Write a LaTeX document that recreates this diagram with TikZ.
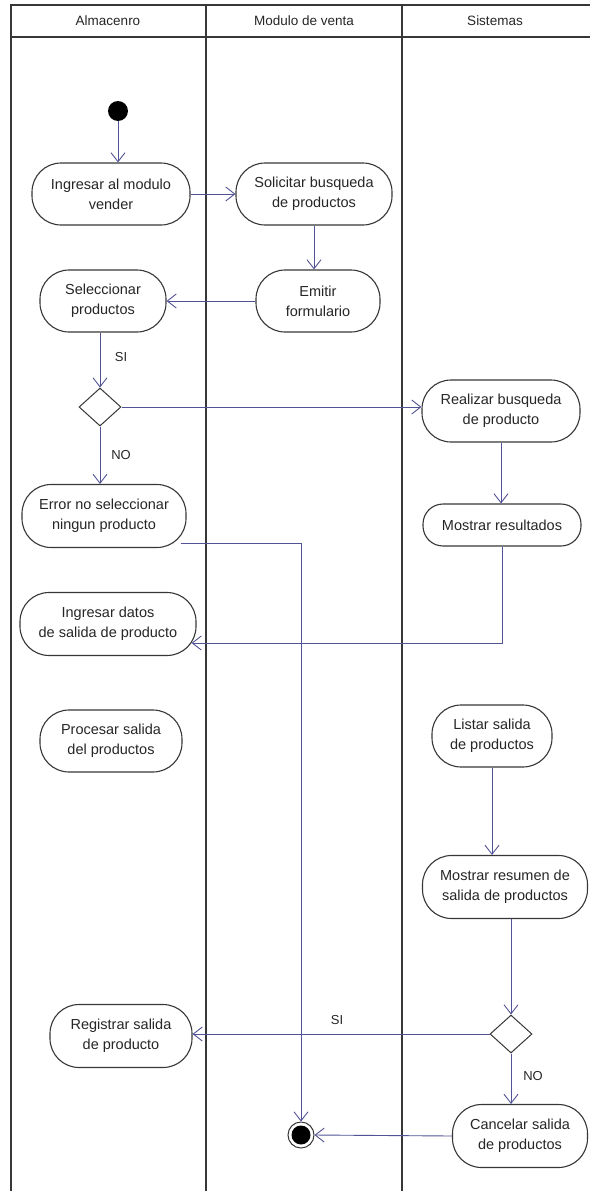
\documentclass[tikz,border=0pt]{standalone}
\usepackage{fontspec}
\setmainfont{Liberation Sans}
\usetikzlibrary{arrows.meta,shapes.geometric}
\definecolor{flow}{RGB}{82,82,150}
\definecolor{frame}{RGB}{55,55,55}
\begin{document}
\begin{tikzpicture}[x=1pt,y=-1pt,
  act/.style n args={2}{draw=frame, line width=1.1pt, fill=white,
    rounded corners=29pt, align=center, inner sep=0pt,
    minimum width=#1pt, minimum height=#2pt,
    font=\fontsize{14.5}{20}\selectfont, text=black!85},
  decision/.style={diamond, draw=frame, line width=1pt, fill=white,
    minimum width=42pt, minimum height=38pt, inner sep=0pt},
  flowline/.style={draw=flow, line width=0.9pt,
    -{Straight Barb[length=9pt,width=14pt,line width=0.9pt]}},
  lbl/.style={font=\fontsize{13}{16}\selectfont, text=black!85},
  head/.style={font=\fontsize{13.5}{16}\selectfont, text=black!85},
  lane/.style={draw=frame, line width=1.4pt}]
\useasboundingbox (0,0) rectangle (589,1191);

% swimlane frame
\draw[lane] (11,1195) -- (11,5) -- (595,5);
\draw[lane] (11,37) -- (595,37);
\draw[lane] (206,5) -- (206,1195);
\draw[lane] (402,5) -- (402,1195);
\node[head] (h1) at (108,21) {Almacenro};
\node[head] (h2) at (304,21) {Modulo de venta};
\node[head] (h3) at (495,21) {Sistemas};

% initial and final states
\node[circle, fill=black, minimum size=20pt, inner sep=0pt] (start) at (118,111) {};
\node[circle, draw=frame, line width=1pt, fill=white, minimum size=26pt, inner sep=0pt] (end) at (301,1135) {};
\fill[black] (end.center) circle (9.5);

% activities
\node[act={158}{62}] (ing) at (111,194) {Ingresar al modulo\\vender};
\node[act={156}{62}] (sol) at (314,194) {Solicitar busqueda\\de productos};
\node[act={124}{62}] (emi) at (318,301) {Emitir\\formulario};
\node[act={126}{62}] (sel) at (103,301) {Seleccionar\\productos};
\node[decision] (d1) at (100,407) {};
\node[act={164}{63}] (err) at (104,516) {Error no seleccionar\\ningun producto};
\node[act={158}{62}] (rea) at (501,411) {Realizar busqueda\\de producto};
\node[act={158}{42}, rounded corners=20pt] (mos) at (502,525) {Mostrar resultados};
\node[act={176}{63}] (dat) at (108,624) {Ingresar datos\\de salida de producto};
\node[act={142}{62}] (pro) at (111,741) {Procesar salida\\del productos};
\node[act={120}{62}] (lis) at (492,736) {Listar salida\\de productos};
\node[act={165}{63}] (res) at (505,887) {Mostrar resumen de\\salida de productos};
\node[decision] (d2) at (511,1034) {};
\node[act={142}{63}] (reg) at (121,1036) {Registrar salida\\de producto};
\node[act={135}{63}] (can) at (520,1136) {Cancelar salida\\de productos};

% guard labels
\node[lbl] (si1) at (121,357) {SI};
\node[lbl] (no1) at (121,455) {NO};
\node[lbl] (si2) at (337,1020) {SI};
\node[lbl] (no2) at (533,1076) {NO};

% control flow
\draw[flowline] (start) -- (start |- ing.north);
\draw[flowline] (ing.east) -- (sol.west);
\draw[flowline] (sol.south) -- (sol.south |- emi.north);
\draw[flowline] (emi.west) -- (sel.east);
\draw[flowline] (d1.north |- sel.south) -- (d1.north);
\draw[flowline] (d1.east) -- (d1.east -| rea.west);
\draw[flowline] (d1.south) -- (d1.south |- err.north);
\draw[flowline] (rea.south) -- (rea.south |- mos.north);
\draw[flowline] (mos.south) |- ([xshift=-5pt,yshift=-19pt]dat.east);
\draw[flowline] ([xshift=-6pt,yshift=-27pt]err.east) -| (end.north);
\draw[flowline] (lis.south) -- (lis.south |- res.north);
\draw[flowline] (d2.north |- res.south) -- (d2.north);
\draw[flowline] (d2.west) -- (d2.west -| reg.east);
\draw[flowline] (d2.south) -- (d2.south |- can.north);
\draw[flowline] (can.west) -- (end.east);
\end{tikzpicture}
\end{document}
